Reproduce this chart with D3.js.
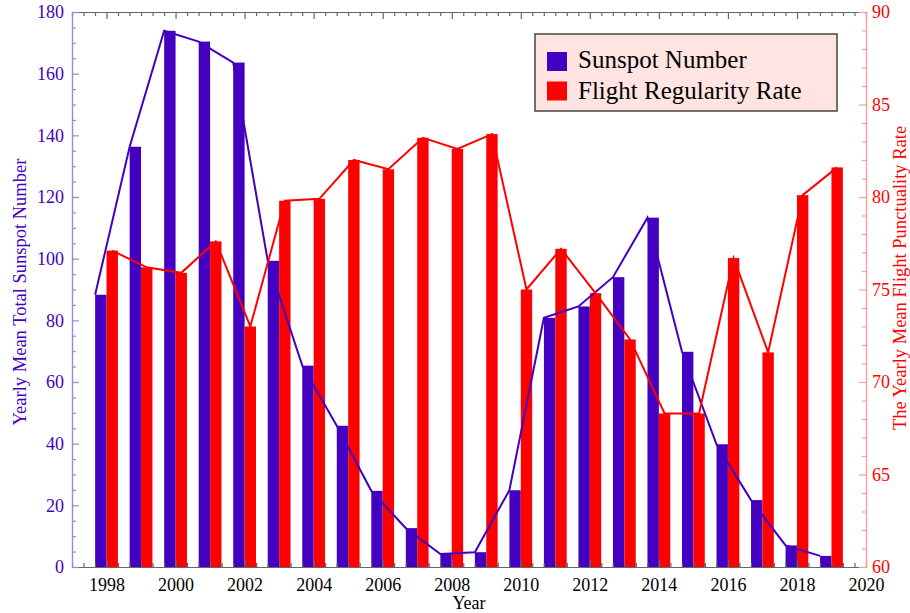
<!DOCTYPE html>
<html>
<head>
<meta charset="utf-8">
<script src="https://cdn.jsdelivr.net/npm/d3@7"></script>
<style>
  body { margin: 0; background: #fff; }
  svg { font-family: "Liberation Serif", "Times New Roman", serif; }
</style>
</head>
<body>
<svg width="910" height="613"></svg>
<script>
// Data
const years = [1998, 1999, 2000, 2001, 2002, 2003, 2004, 2005, 2006, 2007, 2008,
    2009, 2010, 2011, 2012, 2013, 2014, 2015, 2016, 2017, 2018, 2019];
const sunspot = [88.3, 136.3, 173.9, 170.4, 163.6, 99.3, 65.3, 45.8, 24.7, 12.6, 4.2,
    4.8, 24.9, 80.8, 84.5, 94.0, 113.3, 69.8, 39.8, 21.7, 7.0, 3.6];
const flight = [77.1, 76.2, 75.9, 77.6, 73.0, 79.8, 79.9, 82.0, 81.5, 83.2, 82.6,
    83.4, 75.0, 77.2, 74.8, 72.3, 68.3, 68.3, 76.7, 71.6, 80.1, 81.6];
const xTicks = [1998, 2000, 2002, 2004, 2006, 2008, 2010, 2012, 2014, 2016, 2018, 2020];
const leftTicks = [0, 20, 40, 60, 80, 100, 120, 140, 160, 180];
const rightTicks = [60, 65, 70, 75, 80, 85, 90];

(function () {
    const svg = d3.select("svg");
    const left = 72, right = 866, top = 12, bottom = 567;

    const purple = "#4400c0", red = "#ff0000";
    const barW = 0.33;

    const x = d3.scaleLinear().domain([1997, 2020]).range([left, right]);
    const yL = d3.scaleLinear().domain([0, 180]).range([bottom, top]);
    const yR = d3.scaleLinear().domain([60, 90]).range([bottom, top]);

    // minor tick positions
    const xMinor = d3.range(0, 70).map((k) => 1997 + k / 3)
        .filter((v) => !xTicks.some((t) => Math.abs(t - v) < 1e-6));
    const lMinor = d3.range(0, 181, 5).filter((v) => v % 20 !== 0);
    const rMinor = d3.range(60, 91, 1).filter((v) => v % 5 !== 0);

    const rows = years.map((yr, i) => ({ year: yr, s: sunspot[i], f: flight[i] }));
    const w = x(1997 + barW) - x(1997);

    // bars
    svg.append("g").selectAll("rect").data(rows).enter().append("rect")
        .attr("x", (d) => x(d.year - barW))
        .attr("y", (d) => yL(d.s))
        .attr("width", w)
        .attr("height", (d) => bottom - yL(d.s))
        .attr("fill", purple);

    svg.append("g").selectAll("rect").data(rows).enter().append("rect")
        .attr("x", (d) => x(d.year))
        .attr("y", (d) => yR(d.f))
        .attr("width", w)
        .attr("height", (d) => bottom - yR(d.f))
        .attr("fill", red);

    // lines
    const lineS = d3.line().x((d) => x(d.year - barW)).y((d) => yL(d.s));
    const lineF = d3.line().x((d) => x(d.year + barW / 2)).y((d) => yR(d.f));
    svg.append("path").datum(rows).attr("d", lineS)
        .attr("fill", "none").attr("stroke", purple).attr("stroke-width", 2);
    svg.append("path").datum(rows).attr("d", lineF)
        .attr("fill", "none").attr("stroke", red).attr("stroke-width", 2);

    // axes
    function styleAxis(g, color, textColor) {
        g.selectAll(".domain").attr("stroke", color).attr("stroke-width", 1.2);
        g.selectAll(".tick line").attr("stroke", color).attr("stroke-width", 1.2);
        g.selectAll("text").attr("fill", textColor)
            .style("font-size", "18px")
            .style("font-family", '"Liberation Serif", serif');
    }

    const axisGray = "#666";
    const gB = svg.append("g").attr("transform", `translate(0,${bottom})`)
        .call(d3.axisBottom(x).tickValues(xTicks).tickFormat(d3.format("d"))
            .tickSize(-7).tickPadding(11).tickSizeOuter(0));
    styleAxis(gB, axisGray, "#000");
    const gBm = svg.append("g").attr("transform", `translate(0,${bottom})`)
        .call(d3.axisBottom(x).tickValues(xMinor).tickFormat("").tickSize(-4).tickSizeOuter(0));
    styleAxis(gBm, axisGray, "#000");

    const gT = svg.append("g").attr("transform", `translate(0,${top})`)
        .call(d3.axisTop(x).tickValues(xTicks).tickFormat("").tickSize(-7).tickSizeOuter(0));
    styleAxis(gT, axisGray, "#000");
    const gTm = svg.append("g").attr("transform", `translate(0,${top})`)
        .call(d3.axisTop(x).tickValues(xMinor).tickFormat("").tickSize(-4).tickSizeOuter(0));
    styleAxis(gTm, axisGray, "#000");

    const lAxisColor = "#9b84e6";
    const gL = svg.append("g").attr("transform", `translate(${left},0)`)
        .call(d3.axisLeft(yL).tickValues(leftTicks).tickSize(-7).tickPadding(8).tickSizeOuter(0));
    styleAxis(gL, lAxisColor, purple);
    const gLm = svg.append("g").attr("transform", `translate(${left},0)`)
        .call(d3.axisLeft(yL).tickValues(lMinor).tickFormat("").tickSize(-4).tickSizeOuter(0));
    styleAxis(gLm, lAxisColor, purple);

    const rAxisColor = "#ff9c9c";
    const gR = svg.append("g").attr("transform", `translate(${right},0)`)
        .call(d3.axisRight(yR).tickValues(rightTicks).tickSize(-7).tickPadding(6).tickSizeOuter(0));
    styleAxis(gR, rAxisColor, red);
    const gRm = svg.append("g").attr("transform", `translate(${right},0)`)
        .call(d3.axisRight(yR).tickValues(rMinor).tickFormat("").tickSize(-4).tickSizeOuter(0));
    styleAxis(gRm, rAxisColor, red);

    // axis titles
    svg.append("text")
        .attr("transform", `translate(26,292) rotate(-90)`)
        .attr("text-anchor", "middle")
        .attr("fill", purple)
        .style("font-size", "18.5px")
        .text("Yearly Mean Total Sunspot Number");

    svg.append("text")
        .attr("transform", `translate(906,278) rotate(-90)`)
        .attr("text-anchor", "middle")
        .attr("fill", red)
        .style("font-size", "18.5px")
        .text("The Yearly Mean Flight Punctuality Rate");

    svg.append("text")
        .attr("x", (left + right) / 2)
        .attr("y", 609)
        .attr("text-anchor", "middle")
        .attr("fill", "#000")
        .style("font-size", "18px")
        .text("Year");

    // legend
    const legend = svg.append("g").attr("id", "legend");
    legend.append("rect")
        .attr("x", 535).attr("y", 34).attr("width", 302).attr("height", 77)
        .attr("fill", "#ffe4e1").attr("stroke", "#444").attr("stroke-width", 1.5);
    const items = [
        { label: "Sunspot Number", color: purple },
        { label: "Flight Regularity Rate", color: red },
    ];
    legend.selectAll(".sw").data(items).enter().append("rect")
        .attr("x", 547).attr("y", (d, i) => 52 + i * 29.5)
        .attr("width", 20).attr("height", 19)
        .attr("fill", (d) => d.color);
    legend.selectAll(".lt").data(items).enter().append("text")
        .attr("x", 578).attr("y", (d, i) => 68 + i * 31)
        .attr("fill", "#000")
        .style("font-size", "25px")
        .text((d) => d.label);
})();
</script>
</body>
</html>
